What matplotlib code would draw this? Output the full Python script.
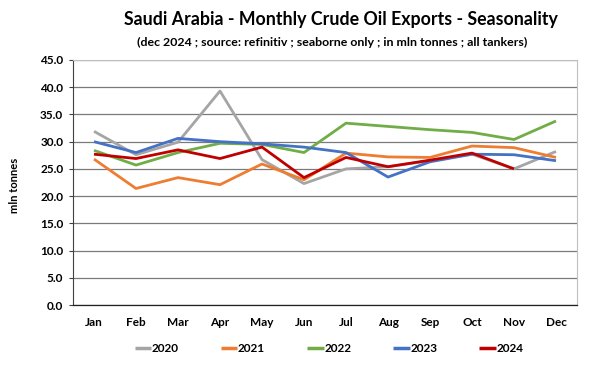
import matplotlib
matplotlib.use("Agg")
import matplotlib.pyplot as plt

months = ["Jan", "Feb", "Mar", "Apr", "May", "Jun", "Jul", "Aug", "Sep", "Oct", "Nov", "Dec"]
y2020 = [31.9, 27.6, 29.9, 39.3, 26.7, 22.3, 25.0, 25.4, 26.5, 27.7, 25.0, 28.2]
y2021 = [26.8, 21.4, 23.4, 22.1, 25.9, 23.0, 27.9, 27.2, 27.1, 29.2, 28.9, 27.1]
y2022 = [28.4, 25.7, 28.0, 29.7, 29.5, 28.0, 33.4, 32.8, 32.2, 31.7, 30.4, 33.8]
y2023 = [30.0, 28.0, 30.6, 30.0, 29.6, 29.0, 28.0, 23.5, 26.3, 27.7, 27.6, 26.5]
y2024 = [27.7, 26.9, 28.5, 26.9, 29.0, 23.4, 27.1, 25.4, 26.6, 27.9, 25.0]

series = [("2020", y2020, "#A5A5A5"), ("2021", y2021, "#ED7D31"),
          ("2022", y2022, "#70AD47"), ("2023", y2023, "#4472C4"),
          ("2024", y2024, "#C00000")]

plt.rcParams['font.family'] = ['Lato', 'DejaVu Sans']

fig = plt.figure(figsize=(6, 3.75), dpi=100)
ax = fig.add_axes([73/600, 1-305/375, (577-73)/600, (305-60)/375])

for name, vals, col in series:
    ax.plot(range(len(vals)), vals, color=col, lw=2.0, label=name, solid_capstyle='butt')

ax.set_xlim(-0.5, 11.5)
ax.set_ylim(0, 45)
ax.set_yticks([i*5 for i in range(10)])
ax.set_yticklabels([f"{i*5:.1f}" for i in range(10)], fontsize=8.5, fontweight='bold')
ax.set_xticks(range(12))
ax.set_xticklabels(months, fontsize=8.5, fontweight='bold')
ax.tick_params(axis='x', length=0, pad=9)
ax.tick_params(axis='y', length=3, width=0.8, color='#404040', pad=4)
ax.yaxis.grid(True, color='#7a7a7a', lw=0.9)
ax.set_axisbelow(True)
for s in ['top', 'right']:
    ax.spines[s].set_color('#c0c0c0')
    ax.spines[s].set_linewidth(0.8)
ax.spines['left'].set_color('#404040')
ax.spines['bottom'].set_color('#202020')
ax.spines['left'].set_linewidth(0.8)
ax.spines['bottom'].set_linewidth(0.9)

fig.text(15/600, 1-185/375, "mln tonnes", rotation=90, ha='center', va='center', fontsize=8, fontweight='bold')
fig.text(341/600, 1-20/375, "Saudi Arabia - Monthly Crude Oil Exports - Seasonality", ha='center', va='center', fontsize=12.8, fontweight='bold')
fig.text(332/600, 1-42/375, "(dec 2024 ; source: refinitiv ; seaborne only ; in mln tonnes ; all tankers)", ha='center', va='center', fontsize=8.9, fontweight='bold')

leg = fig.legend(loc='center', bbox_to_anchor=(329/600, 1-349/375), ncol=5, frameon=False,
                 handlelength=1.4, handletextpad=0.05, columnspacing=3.55,
                 prop={'weight': 'bold', 'size': 8.5})
for l in leg.get_lines():
    l.set_linewidth(2.5)

fig.savefig("out.png", dpi=100)
